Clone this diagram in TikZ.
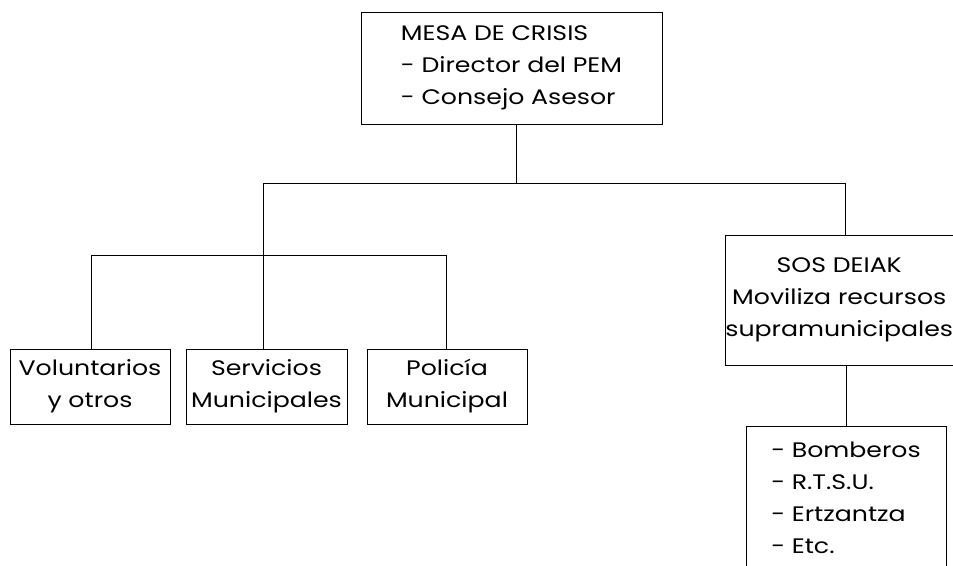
\documentclass[tikz,border=0pt]{standalone}
\usepackage{fontspec}
\setmainfont{Poppins}[FakeStretch=1.2]
\begin{document}
\begin{tikzpicture}[x=1pt,y=-1pt,
  box/.style={draw=black,line width=1pt,inner sep=0pt,font=\fontsize{21}{32}\selectfont},
  conn/.style={draw=black,line width=1pt}]
\clip (0,0) rectangle (953,565);
\useasboundingbox (0,0) rectangle (953,565);
\node[box,minimum width=301pt,minimum height=112pt,align=left] (top) at (511.5,68)
  {MESA DE CRISIS\\- Director del PEM\\- Consejo Asesor};
\node[box,minimum width=160pt,minimum height=75pt,align=center] (vol) at (90,386.5)
  {Voluntarios\\y otros};
\node[box,minimum width=161pt,minimum height=75pt,align=center] (serv) at (266.5,386.5)
  {Servicios\\Municipales};
\node[box,minimum width=160pt,minimum height=75pt,align=center] (pol) at (447,386.5)
  {Policía\\Municipal};
\node[box,minimum width=226.5pt,minimum height=130pt,align=center] (sos) at (839.25,300)
  {SOS DEIAK\\Moviliza recursos\\supramunicipales};
\node[box,minimum width=200pt,minimum height=143pt,align=left,anchor=north] (bot) at (846,426)
  {- Bomberos\\- R.T.S.U.\\- Ertzantza\\- Etc.};
\coordinate (j1) at (516,183);
\coordinate (b1L) at (263,183);
\coordinate (b1R) at (845,183);
\coordinate (b2L) at (91,255);
\coordinate (b2R) at (446,255);
\draw[conn] (top.south -| j1) -- (j1);
\draw[conn] (b1L) -- (b1R);
\draw[conn] (b1L) -- (serv.north -| b1L);
\draw[conn] (b1R) -- (sos.north -| b1R);
\draw[conn] (b2L) -- (b2R);
\draw[conn] (b2L) -- (vol.north -| b2L);
\draw[conn] (b2R) -- (pol.north -| b2R);
\draw[conn] (sos.south -| bot.north) -- (bot.north);
\end{tikzpicture}
\end{document}
